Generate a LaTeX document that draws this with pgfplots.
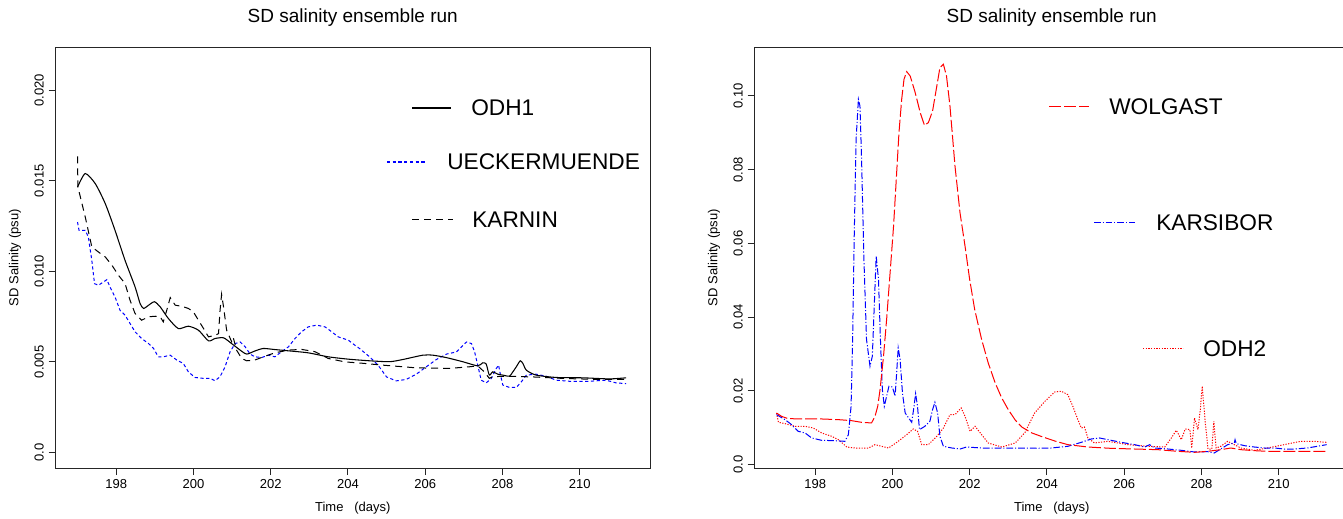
\documentclass[border=0pt]{standalone}
\usepackage{fontspec}
\setmainfont{Liberation Sans}
\usepackage{pgfplots}
\pgfplotsset{compat=1.18}
\usepackage{pgfplotstable}

% left panel
\pgfplotstableread{
t v
197.0 0.01465
197.2 0.0154
197.46 0.01484
197.72 0.01373
197.97 0.01227
198.23 0.01061
198.49 0.00914
198.62 0.00822
198.71 0.00795
198.84 0.00813
198.99 0.00832
199.14 0.00804
199.35 0.0074
199.61 0.00684
199.87 0.00697
200.13 0.00675
200.39 0.00616
200.56 0.00629
200.78 0.00633
200.99 0.00601
201.21 0.00565
201.38 0.00543
201.59 0.0056
201.81 0.00574
202.11 0.00568
202.46 0.00561
202.97 0.0055
203.49 0.00528
204.01 0.00515
204.56 0.00506
205.08 0.00501
205.42 0.00513
205.94 0.00537
206.2 0.00537
206.54 0.00524
206.97 0.00501
207.36 0.00478
207.49 0.00495
207.58 0.00488
207.66 0.00427
207.75 0.00445
207.88 0.00432
208.01 0.00427
208.18 0.00421
208.27 0.00445
208.36 0.00473
208.46 0.00506
208.53 0.00491
208.62 0.00454
208.87 0.00427
209.39 0.00414
210.08 0.00412
210.77 0.00406
211.2 0.00412
}\odhone

\pgfplotstableread{
t v
197.0 0.01635
197.01 0.01466
197.2 0.0130
197.37 0.01135
197.54 0.01107
197.72 0.01079
197.89 0.01034
198.06 0.00978
198.23 0.00933
198.36 0.0084
198.49 0.00767
198.66 0.0073
198.84 0.00749
199.01 0.00752
199.14 0.00749
199.22 0.00721
199.31 0.00785
199.4 0.00855
199.53 0.00813
199.7 0.00807
199.87 0.00795
200.0 0.00776
200.13 0.0073
200.26 0.00685
200.39 0.00638
200.56 0.00647
200.65 0.00656
200.69 0.00785
200.73 0.00873
200.78 0.00804
200.86 0.00675
200.99 0.00611
201.03 0.00635
201.12 0.00564
201.25 0.00519
201.38 0.00506
201.59 0.0051
201.81 0.00528
202.11 0.0055
202.46 0.00565
202.8 0.00569
203.15 0.00556
203.49 0.00519
203.92 0.005
204.4 0.00492
204.9 0.00482
205.77 0.00467
206.63 0.00464
207.15 0.00473
207.36 0.00478
207.53 0.00445
207.66 0.00409
207.75 0.00418
208.09 0.00421
208.78 0.00417
209.64 0.00408
210.5 0.00403
211.2 0.00403
}\karnin

\pgfplotstableread{
t v
197.0 0.01272
197.04 0.01226
197.2 0.01226
197.28 0.0119
197.37 0.01061
197.44 0.00932
197.54 0.00923
197.67 0.00941
197.76 0.00954
197.84 0.00914
197.97 0.00859
198.1 0.00785
198.23 0.00758
198.36 0.00712
198.49 0.00666
198.66 0.00629
198.84 0.00601
198.97 0.00574
199.09 0.00528
199.22 0.00528
199.4 0.00537
199.57 0.0051
199.74 0.00491
199.87 0.00445
200.04 0.00414
200.26 0.00409
200.43 0.00409
200.56 0.00396
200.69 0.00418
200.82 0.00473
200.95 0.00556
201.08 0.00601
201.21 0.0061
201.34 0.00583
201.47 0.00543
201.59 0.00528
201.77 0.00524
201.94 0.00537
202.11 0.00528
202.28 0.00556
202.46 0.00583
202.63 0.00629
202.8 0.00666
202.97 0.00693
203.19 0.00703
203.41 0.00693
203.58 0.00666
203.75 0.00638
204.01 0.0062
204.18 0.00592
204.3 0.00574
204.56 0.00528
204.78 0.00482
205.0 0.00417
205.25 0.00395
205.51 0.00403
205.77 0.00432
206.03 0.00473
206.29 0.00513
206.55 0.00543
206.81 0.00555
206.94 0.00583
207.07 0.0061
207.2 0.00601
207.28 0.00555
207.37 0.00473
207.45 0.00399
207.58 0.00384
207.71 0.00408
207.84 0.00463
207.9 0.00482
207.95 0.00427
208.01 0.00372
208.18 0.00359
208.36 0.00359
208.49 0.0039
208.62 0.00427
208.87 0.00432
209.13 0.00421
209.39 0.00399
209.73 0.00393
210.25 0.00393
210.68 0.00399
210.94 0.00384
211.2 0.0038
}\ueck

% right panel
\pgfplotstableread{
t v
197.0 0.0140
197.13 0.0131
197.3 0.01248
197.74 0.01239
198.17 0.01239
198.6 0.01221
198.94 0.01194
199.2 0.01149
199.46 0.01131
199.55 0.01312
199.62 0.01583
199.68 0.02035
199.77 0.0294
199.85 0.03935
199.94 0.052
200.03 0.06468
200.11 0.07915
200.17 0.09
200.24 0.09905
200.3 0.10448
200.37 0.10656
200.46 0.10538
200.59 0.10086
200.72 0.09543
200.83 0.092
200.93 0.09272
201.04 0.09589
201.15 0.10267
201.23 0.10764
201.32 0.10855
201.4 0.10538
201.49 0.09724
201.62 0.08096
201.75 0.0683
201.88 0.05925
202.0 0.0502
202.13 0.04206
202.31 0.03392
202.48 0.02759
202.66 0.02216
202.83 0.01809
203.0 0.0149
203.18 0.0121
203.35 0.0102
203.61 0.00860
203.87 0.00760
204.21 0.00640
204.54 0.00543
205.06 0.00479
205.66 0.00443
206.27 0.00425
206.87 0.00407
207.39 0.00362
207.82 0.00335
208.16 0.00362
208.5 0.00407
208.76 0.00452
209.02 0.00407
209.37 0.0038
209.71 0.00362
210.14 0.00362
210.57 0.00362
211.22 0.00362
}\wolgast

\pgfplotstableread{
t v
197.0 0.01357
197.22 0.01221
197.39 0.01085
197.56 0.00905
197.74 0.00859
197.91 0.00724
198.17 0.0066
198.51 0.00651
198.77 0.00633
198.86 0.00814
198.93 0.01583
198.97 0.03392
199.01 0.06106
199.06 0.0882
199.12 0.09905
199.16 0.09724
199.2 0.08367
199.26 0.05654
199.33 0.03392
199.42 0.02668
199.48 0.0294
199.53 0.04297
199.58 0.05654
199.64 0.0502
199.69 0.03392
199.74 0.02035
199.79 0.01583
199.85 0.01854
199.91 0.02126
200.0 0.02108
200.07 0.01854
200.11 0.02488
200.15 0.03166
200.2 0.02849
200.26 0.01945
200.33 0.01402
200.39 0.01312
200.5 0.01149
200.56 0.01583
200.6 0.01927
200.65 0.01583
200.7 0.0095
200.84 0.0104
200.97 0.01176
201.04 0.01493
201.1 0.01692
201.17 0.01402
201.23 0.00769
201.32 0.00498
201.54 0.00452
201.75 0.00425
201.92 0.00479
202.31 0.00452
202.92 0.00452
203.78 0.00445
204.11 0.00452
204.54 0.00498
204.89 0.00606
205.15 0.00697
205.36 0.00724
205.58 0.00678
205.92 0.00606
206.27 0.00543
206.53 0.00479
206.66 0.00543
206.79 0.00452
207.13 0.00425
207.48 0.00389
207.82 0.00344
208.16 0.00353
208.33 0.00317
208.5 0.00425
208.68 0.00543
208.85 0.00588
208.87 0.00678
208.9 0.0057
209.11 0.00516
209.37 0.00479
209.63 0.00452
209.89 0.00452
210.14 0.00425
210.4 0.00425
210.74 0.00452
211.0 0.00498
211.24 0.00543
}\karsibor

\pgfplotstableread{
t v
197.0 0.0140
197.05 0.01149
197.22 0.01113
197.48 0.0104
197.74 0.0104
197.95 0.00995
198.17 0.00859
198.43 0.00769
198.6 0.00678
198.82 0.00479
199.03 0.00452
199.38 0.00452
199.55 0.00543
199.72 0.00498
199.9 0.00452
200.15 0.00633
200.37 0.00814
200.54 0.00968
200.65 0.00905
200.76 0.00543
200.93 0.00543
201.15 0.00769
201.32 0.00995
201.49 0.01357
201.62 0.01357
201.78 0.01538
201.88 0.01312
202.01 0.00905
202.14 0.0104
202.31 0.00814
202.48 0.00588
202.83 0.00479
203.18 0.00588
203.43 0.00870
203.68 0.0140
203.95 0.0172
204.2 0.0197
204.37 0.0199
204.54 0.0190
204.67 0.01583
204.8 0.01221
204.89 0.00995
204.97 0.01022
205.06 0.00724
205.23 0.00588
205.58 0.00633
206.1 0.00543
206.62 0.00498
207.05 0.00479
207.22 0.00724
207.35 0.00932
207.48 0.00678
207.58 0.00968
207.7 0.0095
207.75 0.00452
207.82 0.01266
207.91 0.0095
207.97 0.01493
208.02 0.02126
208.1 0.01131
208.17 0.00425
208.27 0.00425
208.32 0.01176
208.38 0.00452
208.5 0.00498
208.68 0.00633
208.85 0.00543
209.02 0.00452
209.37 0.00389
209.71 0.00452
210.14 0.00543
210.57 0.00633
210.92 0.00633
211.24 0.00606
}\odhtwo

\def\u{0.75pt}

\tikzset{
  lodh1/.style={black, line width=0.8pt},
  lueck/.style={blue, line width=0.75pt, dash pattern=on 2.4pt off 1.9pt},
  lkarnin/.style={black, line width=0.75pt, dash pattern=on 5.25pt off 3.75pt},
  lwolgast/.style={red, line width=0.75pt, dash pattern=on 9pt off 2.25pt},
  lkarsibor/.style={blue, line width=0.75pt, dash pattern=on 5pt off 1.5pt on 0.8pt off 1.5pt},
  lodh2/.style={red, line width=0.75pt, dash pattern=on 0.9pt off 1.1pt},
}

\pgfplotsset{
  rplot/.style={
    scale only axis, width=594.5*\u, height=420.5*\u, anchor=south west,
    xmin=196.43, xmax=211.82,
    axis line style={black!85, line width=0.75pt},
    tick pos=left, tick align=outside, major tick length=7*\u,
    every tick/.style={black!85, line width=0.75pt},
    xtick={198,200,...,210},
    scaled y ticks=false,
    /pgf/number format/assume math mode=true,
    ticklabel style={font=\fontsize{9.75}{11}\selectfont},
    yticklabel style={rotate=90, anchor=south},
    title style={at={(axis description cs:0.5,1.052)}, anchor=center, yshift=0pt,
                 font=\fontsize{14.25}{16}\selectfont},
    xlabel style={at={(axis description cs:0.5,-0.0951)}, anchor=center,
                  font=\fontsize{9.75}{11}\selectfont},
    ylabel style={at={(axis description cs:-0.068,0.5)}, anchor=center,
                  font=\fontsize{9.75}{11}\selectfont},
    title={SD salinity ensemble run},
    xlabel={Time\ \ \ (days)},
    ylabel={SD Salinity (psu)},
  },
}

\begin{document}
\begin{tikzpicture}
\begin{axis}[rplot, at={(55.5*\u,50*\u)},
  ymin=-0.00086, ymax=0.02236,
  ytick={0,0.005,0.01,0.015,0.02},
  yticklabels={0.0,0.005,0.010,0.015,0.020}]
  \addplot[lueck] table[x=t, y=v] {\ueck};
  \addplot[lkarnin] table[x=t, y=v] {\karnin};
  \addplot[lodh1, smooth, tension=0.4] table[x=t, y=v] {\odhone};
\end{axis}
\begin{axis}[rplot, at={(754.5*\u,50*\u)},
  ymin=-0.0009, ymax=0.1131,
  ytick={0,0.02,0.04,0.06,0.08,0.10},
  yticklabels={0.0,0.02,0.04,0.06,0.08,0.10}]
  \addplot[lodh2] table[x=t, y=v] {\odhtwo};
  \addplot[lkarsibor] table[x=t, y=v] {\karsibor};
  \addplot[lwolgast] table[x=t, y=v] {\wolgast};
\end{axis}

% legends
\begin{scope}[x=\u, y=\u, every node/.style={anchor=west, inner sep=0pt, font=\fontsize{17}{19}\selectfont}]
  \draw[lodh1] (412,410) -- (451,410);
  \node at (471,410) {ODH1};
  \draw[lueck, line width=1pt] (387,356) -- (427,356);
  \node at (447,356) {UECKERMUENDE};
  \draw[lkarnin] (412,298) -- (453,298);
  \node at (472,298) {KARNIN};
  \draw[lwolgast] (1049,411) -- (1089,411);
  \node at (1109,411) {WOLGAST};
  \draw[lkarsibor] (1094,295) -- (1135,295);
  \node at (1156,295) {KARSIBOR};
  \draw[lodh2] (1143,169) -- (1183,169);
  \node at (1203,169) {ODH2};
\end{scope}

\pgfresetboundingbox
\useasboundingbox (0,0) rectangle (1343*\u,518*\u);
\end{tikzpicture}
\end{document}
